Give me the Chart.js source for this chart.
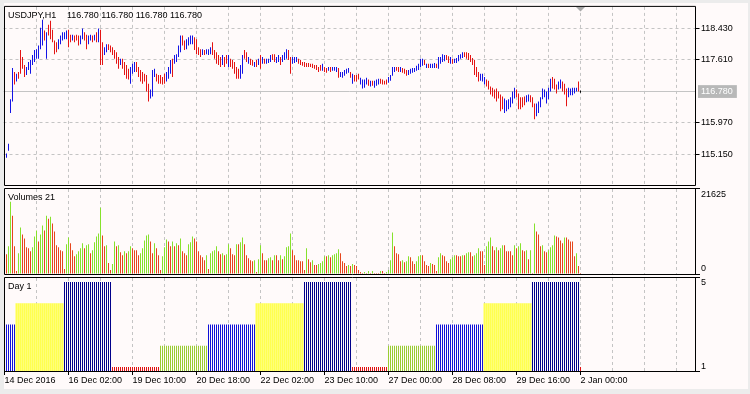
<!DOCTYPE html>
<html>
<head>
<meta charset="utf-8">
<script src="https://cdn.jsdelivr.net/npm/chart.js@4.4.0/dist/chart.umd.min.js"></script>
<style>
  html, body { margin: 0; padding: 0; background: #ececec; }
  #wrap { position: relative; width: 750px; height: 394px; overflow: hidden; }
  #bg { position: absolute; left: 4px; top: 3px; width: 744px; height: 386px; background: #fffafa; }
  canvas { position: absolute; left: 0; top: 0; }
</style>
</head>
<body>
<div id="wrap">
  <div id="bg"></div>
  <canvas id="cPrice" width="750" height="394"></canvas>
  <canvas id="cVol" width="750" height="394"></canvas>
  <canvas id="cDay" width="750" height="394"></canvas>
</div>
<script>
const FONT = '"Liberation Sans", Arial, sans-serif'
const SLOTS = 346

// x axis labels, one every 32 hourly bars
const timeTicks = ['14 Dec 2016', '16 Dec 02:00', '19 Dec 10:00', '20 Dec 18:00', '22 Dec 02:00',
  '23 Dec 10:00', '27 Dec 00:00', '28 Dec 08:00', '29 Dec 16:00', '2 Jan 00:00']

const priceTicks = [115.150, 115.970, 116.780, 117.610, 118.430]
const lastPrice = 116.780

// USDJPY H1 bars
const highs = [
  115.19, 115.17, 115.42, 116.58, 117.39, 117.29, 117.24, 117.29, 117.86, 117.68,
  117.47, 117.42, 117.55, 117.60, 117.73, 117.86, 117.88, 117.98, 118.44, 118.65,
  118.37, 118.32, 118.52, 118.62, 118.39, 118.11, 118.06, 118.14, 118.24, 118.32,
  118.32, 118.37, 118.39, 118.26, 118.26, 118.24, 118.26, 118.24, 118.24, 118.42,
  118.32, 118.26, 118.24, 118.26, 118.24, 118.26, 118.32, 118.42, 118.39, 118.06,
  117.93, 118.01, 118.01, 117.98, 117.93, 117.86, 117.80, 117.68, 117.63, 117.63,
  117.55, 117.47, 117.37, 117.42, 117.50, 117.55, 117.55, 117.42, 117.34, 117.29,
  117.24, 117.21, 116.98, 116.83, 117.34, 117.37, 117.24, 117.21, 117.21, 117.16,
  117.24, 117.29, 117.42, 117.60, 117.63, 117.73, 117.75, 117.98, 118.24, 118.24,
  118.11, 118.14, 118.19, 118.24, 118.24, 118.19, 118.14, 117.93, 117.88, 117.88,
  117.86, 117.88, 117.88, 117.93, 118.06, 117.86, 117.80, 117.73, 117.68, 117.73,
  117.68, 117.73, 117.73, 117.63, 117.60, 117.55, 117.42, 117.37, 117.47, 117.73,
  117.86, 117.80, 117.68, 117.63, 117.60, 117.55, 117.60, 117.63, 117.73, 117.68,
  117.63, 117.63, 117.63, 117.73, 117.75, 117.75, 117.68, 117.73, 117.68, 117.73,
  117.80, 117.88, 117.86, 117.68, 117.68, 117.68, 117.68, 117.63, 117.60, 117.55,
  117.55, 117.52, 117.52, 117.50, 117.50, 117.47, 117.47, 117.42, 117.47, 117.50,
  117.42, 117.39, 117.42, 117.42, 117.42, 117.42, 117.42, 117.39, 117.29, 117.29,
  117.34, 117.37, 117.39, 117.29, 117.24, 117.21, 117.21, 117.24, 117.14, 117.09,
  117.09, 117.14, 117.09, 117.06, 117.06, 117.06, 117.09, 117.11, 117.11, 117.09,
  117.06, 117.09, 117.16, 117.21, 117.42, 117.42, 117.42, 117.42, 117.42, 117.39,
  117.37, 117.34, 117.34, 117.37, 117.39, 117.39, 117.45, 117.50, 117.63, 117.63,
  117.60, 117.50, 117.50, 117.50, 117.50, 117.52, 117.50, 117.68, 117.68, 117.75,
  117.73, 117.73, 117.70, 117.68, 117.63, 117.63, 117.65, 117.73, 117.75, 117.80,
  117.80, 117.80, 117.78, 117.73, 117.65, 117.60, 117.42, 117.29, 117.24, 117.24,
  117.16, 117.09, 117.06, 116.91, 116.88, 116.83, 116.86, 116.78, 116.70, 116.65,
  116.60, 116.55, 116.58, 116.63, 116.78, 116.88, 116.83, 116.73, 116.63, 116.63,
  116.65, 116.68, 116.70, 116.68, 116.63, 116.47, 116.47, 116.52, 116.63, 116.86,
  116.83, 116.78, 116.88, 117.11, 117.16, 117.11, 116.96, 117.04, 117.09, 117.04,
  116.98, 116.86, 116.88, 116.86, 116.88, 116.88, 116.88, 117.04, 116.81
]
const lows = [
  115.04, 115.06, 115.24, 116.22, 116.52, 116.96, 117.04, 117.11, 117.24, 117.37,
  117.16, 117.21, 117.34, 117.24, 117.47, 117.55, 117.63, 117.63, 117.88, 117.98,
  118.11, 117.63, 118.24, 118.14, 118.06, 117.75, 117.80, 117.88, 118.01, 118.11,
  118.14, 118.14, 117.93, 118.06, 118.11, 118.06, 118.11, 117.98, 118.01, 118.14,
  118.11, 117.88, 118.01, 118.11, 118.06, 118.11, 118.06, 118.06, 117.47, 117.47,
  117.73, 117.80, 117.86, 117.80, 117.73, 117.63, 117.50, 117.37, 117.47, 117.37,
  117.21, 117.11, 117.09, 116.98, 117.24, 117.29, 117.29, 117.16, 117.04, 116.98,
  117.04, 116.78, 116.52, 116.60, 116.65, 117.16, 117.04, 116.98, 116.98, 116.96,
  116.98, 117.04, 117.11, 117.24, 117.16, 117.50, 117.55, 117.68, 117.80, 117.98,
  117.86, 117.88, 117.98, 118.01, 118.01, 117.86, 117.75, 117.73, 117.68, 117.73,
  117.73, 117.75, 117.73, 117.75, 117.73, 117.63, 117.50, 117.47, 117.42, 117.47,
  117.42, 117.50, 117.42, 117.42, 117.37, 117.24, 117.11, 117.11, 117.11, 117.24,
  117.63, 117.55, 117.50, 117.47, 117.45, 117.42, 117.42, 117.47, 117.37, 117.50,
  117.50, 117.50, 117.52, 117.55, 117.60, 117.55, 117.52, 117.55, 117.47, 117.55,
  117.60, 117.63, 117.60, 117.24, 117.50, 117.52, 117.55, 117.50, 117.47, 117.45,
  117.42, 117.42, 117.42, 117.42, 117.39, 117.37, 117.34, 117.29, 117.32, 117.32,
  117.29, 117.27, 117.32, 117.29, 117.32, 117.32, 117.29, 117.14, 117.16, 117.14,
  117.19, 117.24, 117.27, 117.14, 116.98, 117.04, 117.04, 117.09, 116.96, 116.86,
  116.88, 116.96, 116.93, 116.91, 116.93, 116.88, 116.93, 116.96, 116.98, 116.96,
  116.96, 116.96, 117.01, 117.06, 117.19, 117.29, 117.32, 117.29, 117.29, 117.27,
  117.24, 117.19, 117.21, 117.24, 117.27, 117.29, 117.32, 117.34, 117.42, 117.45,
  117.47, 117.39, 117.39, 117.39, 117.39, 117.39, 117.39, 117.37, 117.50, 117.55,
  117.57, 117.60, 117.52, 117.50, 117.50, 117.52, 117.52, 117.57, 117.63, 117.65,
  117.68, 117.63, 117.60, 117.55, 117.47, 117.21, 117.16, 117.04, 117.06, 117.04,
  116.96, 116.91, 116.83, 116.70, 116.65, 116.60, 116.52, 116.60, 116.27, 116.32,
  116.22, 116.27, 116.32, 116.37, 116.47, 116.60, 116.63, 116.32, 116.32, 116.37,
  116.42, 116.50, 116.52, 116.50, 116.37, 116.06, 116.14, 116.22, 116.37, 116.58,
  116.63, 116.47, 116.58, 116.78, 116.86, 116.83, 116.73, 116.83, 116.86, 116.78,
  116.70, 116.40, 116.63, 116.68, 116.68, 116.73, 116.78, 116.78, 116.75
]
// u = up bar, d = down bar, n = unchanged
const barDirs = ('uuuuu duddd duuuu uuuuu duddd dduuu uuddu ddduu dduud ududd uuddd dddud ' +
  'ddduu udddd ddduu udddd duuud uuuud duuuu ddddu duuud ddddu ddudd ddduu ddudd ududu ' +
  'duuud duudu uuddu uuddd ddddd ddddu ddudu uuduu uuudu ddduu uudud uuudd dduuu uddud ' +
  'dduuu uuuuu duduu uduuu uddud uuuuu ddddd ddduu udddd ddddd uuuuu udddd duudd duuuu ' +
  'uuuud dduud dduuu uudn').split(' ').join('').split('')

const volumes = [
  5030, 5030, 7040, 18360, 14840, 7040, 750, 5280, 11820, 10060,
  9050, 6790, 6540, 5780, 6790, 9560, 11070, 8300, 10060, 12320,
  11070, 14840, 14080, 14590, 12830, 10810, 7290, 6790, 6040, 5780,
  1260, 7550, 9310, 7800, 6040, 4530, 5030, 5780, 6540, 7800,
  6540, 7290, 7550, 5280, 6040, 8050, 9560, 10310, 16850, 9810,
  7040, 7290, 2770, 1010, 2520, 8300, 7040, 7290, 5530, 4780,
  5780, 5280, 5780, 7040, 6540, 6040, 6040, 4780, 5280, 6540,
  8550, 9810, 10060, 8300, 5280, 7800, 6540, 4780, 1010, 4530,
  6790, 8800, 8300, 7040, 8300, 7040, 7800, 7290, 9050, 5780,
  5280, 4780, 7550, 8050, 9560, 9050, 8300, 5780, 4780, 4280,
  3520, 4780, 1260, 5280, 5780, 6040, 7040, 5780, 5030, 5280,
  4780, 5030, 7550, 6540, 5030, 4780, 7550, 7550, 8050, 9310,
  7550, 4780, 4020, 3520, 3270, 3520, 500, 3770, 7290, 5280,
  3520, 3520, 4020, 4280, 3520, 4780, 4780, 3520, 4780, 3770,
  4530, 6790, 7040, 10310, 6040, 4780, 3520, 3520, 3270, 3270,
  1010, 6540, 3770, 3020, 3520, 2260, 2260, 2520, 2770, 3270,
  4530, 4530, 4780, 4280, 4780, 5030, 5280, 6290, 5280, 3270,
  2770, 2010, 2260, 2010, 2520, 2260, 2010, 1010, 500, 250,
  500, 250, 750, 250, 750, 250, 250, 250, 750, 750,
  250, 500, 1010, 3520, 10560, 7040, 5280, 5030, 3270, 3520,
  3020, 3270, 4530, 4280, 3270, 2520, 3270, 4530, 4780, 4780,
  3270, 2260, 2010, 2770, 2520, 2260, 750, 4280, 5280, 4780,
  4530, 3270, 2770, 3770, 4280, 4780, 4780, 4530, 4530, 4780,
  4780, 5280, 5530, 5530, 4530, 4780, 5280, 6540, 5780, 5780,
  2260, 7040, 8300, 9310, 7040, 6040, 6790, 6040, 6540, 7290,
  7290, 5780, 5780, 5780, 4780, 7290, 6540, 7040, 7800, 6040,
  5780, 6040, 3770, 6040, 250, 12830, 10810, 10060, 7040, 7290,
  5780, 5530, 6040, 6790, 7290, 9810, 9560, 9310, 8550, 7800,
  9310, 9310, 8800, 8300, 8300, 4530, 5280, 2010, 21
]
const volumeMax = 21625

// Day indicator: [weekday number, number of hourly bars]
const daySegments = [[3, 6], [4, 24], [5, 24], [1, 24], [2, 24], [3, 24], [4, 24], [5, 24],
  [1, 18], [2, 24], [3, 24], [4, 24], [5, 24], [1, 1]]
const dayColors = { 1: '#e01010', 2: '#9acd32', 3: '#1010d8', 4: '#ffff50', 5: '#00008b' }

const UP = '#1414e6'
const DOWN = '#e41414'
const VOL_UP = '#86e22c'
const VOL_DOWN = '#e6461c'
const GRID = '#c4c4c4'

const labels = []
for (let i = 0; i < SLOTS; i++) {
  labels.push(i % 32 === 0 && timeTicks[i / 32] ? timeTicks[i / 32] : '')
}

const dayValues = []
daySegments.forEach(([d, n]) => { for (let k = 0; k < n; k++) dayValues.push(d) })

function xAxis(showLabels) {
  return {
    type: 'category',
    offset: true,
    grid: {
      offset: false,
      color: c => (c.index % 16 === 0 && c.index > 0) ? GRID : 'rgba(0,0,0,0)',
      drawTicks: showLabels,
      tickLength: 4,
      tickColor: c => (c.index % 32 === 0 && c.index <= 288) ? '#000' : 'rgba(0,0,0,0)',
      tickBorderDash: []
    },
    border: { display: false, dash: [3, 3] },
    ticks: {
      display: showLabels, autoSkip: false, maxRotation: 0, minRotation: 0,
      align: 'start', padding: 0, color: '#000', font: { family: FONT, size: 9 }
    },
    afterFit: s => { s.height = showLabels ? 23 : 0 }
  }
}

function frame(title, extend) {
  return {
    id: 'frame',
    afterDraw(chart) {
      const { ctx, chartArea: a } = chart
      const top = a.top - 0.5
      const bot = a.bottom + 0.5
      const ext = extend ? 700 : a.right
      ctx.save()
      ctx.strokeStyle = '#000'
      ctx.lineWidth = 1
      ctx.setLineDash([])
      ctx.beginPath()
      ctx.moveTo(4.5, top); ctx.lineTo(ext, top)
      ctx.moveTo(4.5, bot); ctx.lineTo(ext, bot)
      ctx.moveTo(4.5, top); ctx.lineTo(4.5, bot)
      ctx.moveTo(a.right, top); ctx.lineTo(a.right, bot)
      ctx.stroke()
      ctx.fillStyle = '#000'
      ctx.font = '9px ' + FONT
      ctx.textBaseline = 'alphabetic'
      title.forEach(([t, x]) => ctx.fillText(t, x, a.top + 11))
      ctx.restore()
    }
  }
}

const shiftMarker = {
  id: 'shiftMarker',
  afterDraw(chart) {
    const { ctx, chartArea: a } = chart
    const x = chart.scales.x.getPixelForValue(highs.length - 1)
    ctx.save()
    ctx.fillStyle = '#a8a8a8'
    ctx.beginPath()
    ctx.moveTo(x - 4.5, a.top)
    ctx.lineTo(x + 4.5, a.top)
    ctx.lineTo(x, a.top + 4.5)
    ctx.closePath()
    ctx.fill()
    ctx.restore()
  }
}

const base = {
  responsive: false,
  animation: false,
  devicePixelRatio: 1,
  events: [],
  plugins: { legend: { display: false }, tooltip: { enabled: false } }
}

const isLast = c => c.tick && Math.abs(c.tick.value - lastPrice) < 1e-6

new Chart(document.getElementById('cPrice'), {
  type: 'bar',
  data: {
    labels,
    datasets: [{
      data: highs.map((h, i) => [lows[i], h]),
      backgroundColor: barDirs.map(d => d === 'u' ? UP : d === 'd' ? DOWN : '#000'),
      barThickness: 1,
      borderWidth: 0,
      inflateAmount: 0
    }]
  },
  options: {
    ...base,
    layout: { padding: { left: 3.5, top: 4, right: 0, bottom: 209 } },
    scales: {
      x: xAxis(false),
      y: {
        position: 'right',
        min: 114.348,
        max: 118.982,
        afterBuildTicks: s => { s.ticks = priceTicks.map(v => ({ value: v })) },
        afterFit: s => { s.width = 54.5 },
        grid: {
          color: GRID,
          tickLength: 4,
          tickColor: c => isLast(c) ? 'rgba(0,0,0,0)' : '#000',
          tickBorderDash: []
        },
        border: { display: false, dash: c => isLast(c) ? [] : [3, 3] },
        ticks: {
          padding: 1.5,
          color: c => isLast(c) ? '#fff' : '#000',
          showLabelBackdrop: c => isLast(c),
          backdropColor: '#b8b8b8',
          backdropPadding: { top: 1, bottom: 1, left: 3, right: 4 },
          font: { family: FONT, size: 9 },
          callback: v => v.toFixed(3)
        }
      }
    }
  },
  plugins: [frame([['USDJPY,H1', 8], ['116.780 116.780 116.780 116.780', 67]], false), shiftMarker]
})

new Chart(document.getElementById('cVol'), {
  type: 'bar',
  data: {
    labels,
    datasets: [{
      data: volumes,
      backgroundColor: volumes.map((v, i) => i > 0 && v > volumes[i - 1] ? VOL_UP : VOL_DOWN),
      barThickness: 1,
      borderWidth: 0,
      inflateAmount: 0
    }]
  },
  options: {
    ...base,
    layout: { padding: { left: 3.5, top: 189, right: 0, bottom: 120 } },
    scales: {
      x: xAxis(false),
      y: {
        position: 'right',
        min: 0,
        max: volumeMax,
        afterBuildTicks: s => { s.ticks = [{ value: 0 }, { value: volumeMax }] },
        afterFit: s => { s.width = 54.5 },
        grid: { drawOnChartArea: false, tickLength: 4, tickColor: 'rgba(0,0,0,0)' },
        border: { display: false },
        ticks: {
          padding: 1.5,
          color: '#000',
          font: { family: FONT, size: 9 },
          callback: v => v === 0 ? ['0', ''] : ['', String(v)]
        }
      }
    }
  },
  plugins: [frame([['Volumes 21', 8]], true)]
})

new Chart(document.getElementById('cDay'), {
  type: 'bar',
  data: {
    labels,
    datasets: [{
      data: dayValues.map(d => d === 4 ? null : d),
      backgroundColor: dayValues.map(d => dayColors[d]),
      barThickness: 1,
      grouped: false,
      borderWidth: 0,
      inflateAmount: 0
    }, {
      data: dayValues.map(d => d === 4 ? d : null),
      backgroundColor: dayColors[4],
      barThickness: 2,
      grouped: false,
      borderWidth: 0,
      inflateAmount: 0
    }]
  },
  options: {
    ...base,
    layout: { padding: { left: 3.5, top: 278, right: 0, bottom: 0 } },
    scales: {
      x: xAxis(true),
      y: {
        position: 'right',
        min: 0.81,
        max: 5.19,
        afterBuildTicks: s => { s.ticks = [{ value: 1 }, { value: 5 }] },
        afterFit: s => { s.width = 54.5 },
        grid: { drawOnChartArea: false, tickLength: 4, tickColor: 'rgba(0,0,0,0)' },
        border: { display: false },
        ticks: {
          padding: 1.5,
          color: '#000',
          font: { family: FONT, size: 9 },
          callback: v => String(v)
        }
      }
    }
  },
  plugins: [frame([['Day 1', 8]], true)]
})
</script>
</body>
</html>
